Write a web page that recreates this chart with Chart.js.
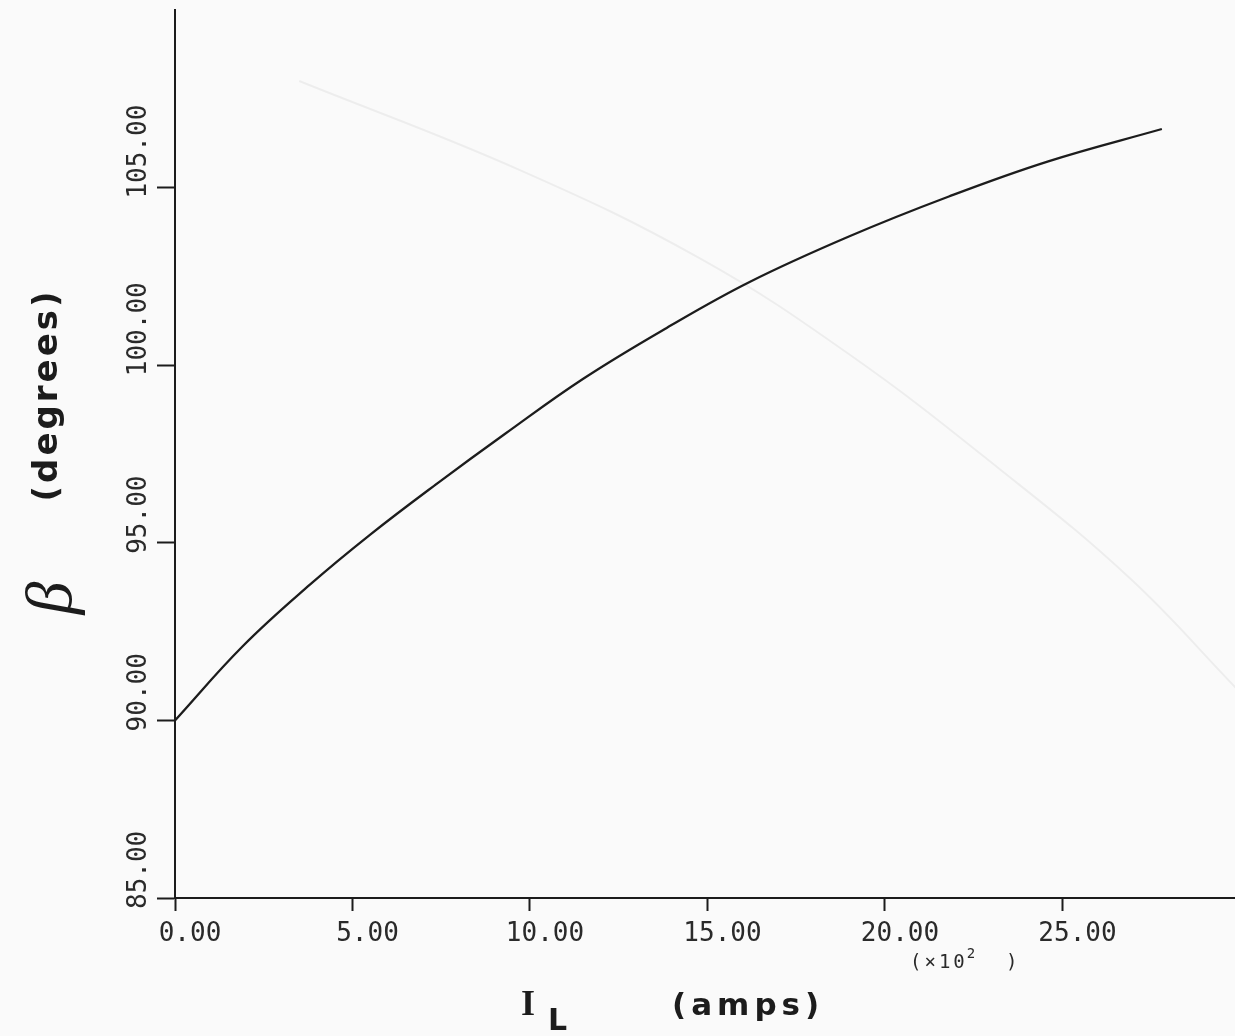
<!DOCTYPE html>
<html>
<head>
<meta charset="utf-8">
<script src="https://cdn.jsdelivr.net/npm/chart.js@4.4.1/dist/chart.umd.min.js"></script>
<style>
  html, body { margin: 0; padding: 0; background: #fafafa; }
  #wrap { width: 1235px; height: 1036px; position: relative; }
</style>
</head>
<body>
<div id="wrap"><canvas id="betaChart"></canvas></div>
<script>
// load current I_L (x10^2 amps) vs angle beta (degrees)
const loadCurrent = [0, 1.9, 3.8, 5.5, 7.4, 9.3, 11.5, 13.85, 16.2, 19.0, 21.8, 24.6, 27.8];
const betaDeg = [90.0, 92.08, 93.82, 95.23, 96.68, 98.07, 99.62, 101.05, 102.35, 103.63, 104.75, 105.74, 106.65];

// faint trace bleeding through from the back of the sheet
const traceX = [3.5, 9.7, 14.8, 19.0, 23.2, 26.9, 29.9];
const traceY = [108.0, 105.5, 103.0, 100.3, 97.1, 94.0, 90.9];

const xTicks = [0, 5, 10, 15, 20, 25];
const yTicks = [85, 90, 95, 100, 105];

const monoFont = '"DejaVu Sans Mono", monospace';
const ink = '#1c1c1c';

const toPoints = (xs, ys) => xs.map((x, i) => ({ x: x, y: ys[i] }));

// rotated y tick labels and the hand-lettered axis titles
const lettering = {
  id: 'lettering',
  afterDraw(chart) {
    const ctx = chart.ctx;
    const y = chart.scales.y;
    ctx.save();
    ctx.fillStyle = '#2a2a2a';

    ctx.font = '26px ' + monoFont;
    ctx.textAlign = 'left';
    ctx.textBaseline = 'middle';
    yTicks.forEach(v => {
      const py = y.getPixelForValue(v);
      ctx.save();
      ctx.translate(139, py + 11);
      ctx.rotate(-Math.PI / 2);
      ctx.fillText(v.toFixed(2), 0, 0);
      ctx.restore();
    });

    // y title: beta (degrees)
    ctx.fillStyle = ink;
    ctx.save();
    ctx.translate(54, 598);
    ctx.rotate(-Math.PI / 2);
    ctx.textAlign = 'center';
    ctx.font = 'italic 66px "Liberation Serif", serif';
    ctx.fillText('\u03B2', 0, 0);
    ctx.restore();

    ctx.save();
    ctx.translate(48, 395);
    ctx.rotate(-Math.PI / 2);
    ctx.textAlign = 'center';
    ctx.font = 'bold 34px "DejaVu Sans", sans-serif';
    ctx.letterSpacing = '3px';
    ctx.fillText('(degrees)', 0, 0);
    ctx.restore();

    // x title: I_L (amps)
    ctx.textBaseline = 'alphabetic';
    ctx.textAlign = 'left';
    ctx.font = 'bold 36px "Liberation Serif", serif';
    ctx.fillText('I', 521, 1015);
    ctx.font = 'bold 30px "DejaVu Sans", sans-serif';
    ctx.fillText('L', 548, 1030);
    ctx.font = 'bold 31px "DejaVu Sans", sans-serif';
    ctx.letterSpacing = '5px';
    ctx.fillText('(amps)', 672, 1015);

    // multiplier note under the x ticks
    ctx.fillStyle = '#2a2a2a';
    ctx.letterSpacing = '3px';
    ctx.font = '19px ' + monoFont;
    const head = '(\u00D710';
    ctx.fillText(head, 910, 968);
    const w = ctx.measureText(head).width;
    ctx.letterSpacing = '0px';
    ctx.font = '14px ' + monoFont;
    ctx.fillText('2', 910 + w - 1, 958);
    ctx.font = '19px ' + monoFont;
    ctx.fillText(')', 1006, 968);
    ctx.restore();
  }
};

new Chart(document.getElementById('betaChart'), {
  type: 'scatter',
  data: {
    datasets: [
      {
        label: 'trace',
        data: toPoints(traceX, traceY),
        showLine: true,
        borderColor: 'rgba(0,0,0,0.05)',
        borderWidth: 2,
        pointRadius: 0,
        tension: 0.4
      },
      {
        label: 'beta',
        data: toPoints(loadCurrent, betaDeg),
        showLine: true,
        borderColor: ink,
        borderWidth: 2.3,
        pointRadius: 0,
        tension: 0.4
      }
    ]
  },
  options: {
    responsive: true,
    maintainAspectRatio: false,
    animation: false,
    layout: { padding: { top: 10, right: 0, left: 0, bottom: 0 } },
    plugins: {
      legend: { display: false },
      tooltip: { enabled: false }
    },
    scales: {
      x: {
        type: 'linear',
        min: 0,
        max: 29.86,
        afterFit(scale) { scale.height = 138; },
        afterBuildTicks(scale) { scale.ticks = xTicks.map(v => ({ value: v })); },
        border: { display: true, color: ink, width: 2 },
        grid: { drawOnChartArea: false, drawTicks: true, tickLength: 13, tickWidth: 2, color: ink },
        ticks: {
          color: '#2a2a2a',
          font: { family: monoFont, size: 26 },
          padding: 8,
          labelOffset: 15,
          maxRotation: 0,
          callback: v => v.toFixed(2)
        }
      },
      y: {
        type: 'linear',
        min: 85,
        max: 110,
        afterFit(scale) { scale.width = 175; },
        afterBuildTicks(scale) { scale.ticks = yTicks.map(v => ({ value: v })); },
        border: { display: true, color: ink, width: 2 },
        grid: { drawOnChartArea: false, drawTicks: true, tickLength: 18, tickWidth: 2, color: ink },
        ticks: { display: false }
      }
    }
  },
  plugins: [lettering]
});
</script>
</body>
</html>
